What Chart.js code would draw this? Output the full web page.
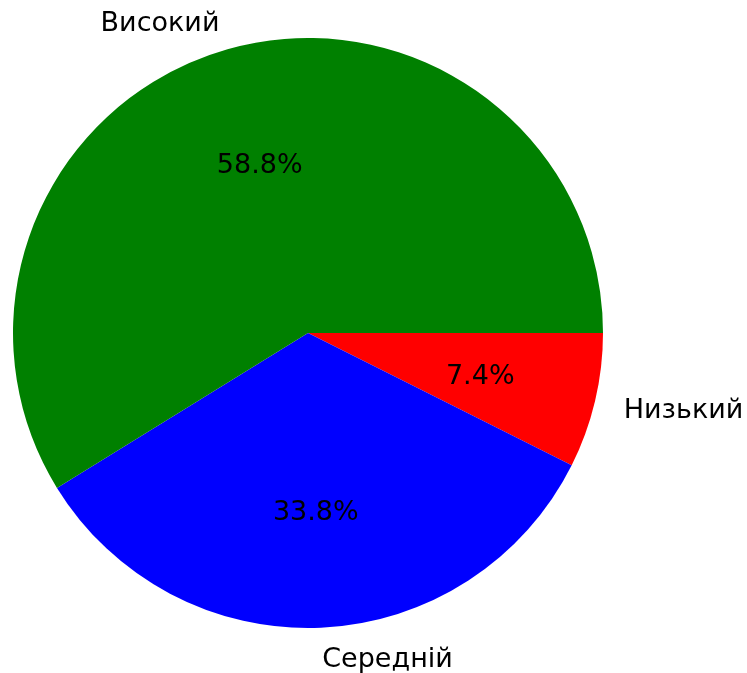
<!DOCTYPE html>
<html>
<head>
<meta charset="utf-8">
<script src="https://cdn.jsdelivr.net/npm/chart.js@4"></script>
<style>
  html, body { margin: 0; padding: 0; background: #fff; }
</style>
</head>
<body>
<canvas id="pieChart" width="747" height="673"></canvas>
<script>
// Дані діаграми (порядок як у matplotlib: проти годинникової стрілки від 3 год.)
const categories = ["Високий", "Середній", "Низький"];
const percents = [58.8, 33.8, 7.4];
const colors = ["#008000", "#0000ff", "#ff0000"];

// Chart.js малює за годинниковою стрілкою, тому розвертаємо порядок
const labelsCW = categories.slice().reverse();
const valuesCW = percents.slice().reverse();
const colorsCW = colors.slice().reverse();

const FONT = "27px 'DejaVu Sans'";
const TEXT_DY = 3; // невеликий зсув вниз, як у matplotlib

// Плагін для підписів: назви на 1.1r, відсотки на 0.6r
const pieLabels = {
  id: "pieLabels",
  afterDatasetsDraw(chart) {
    const ctx = chart.ctx;
    const meta = chart.getDatasetMeta(0);
    ctx.save();
    ctx.font = FONT;
    ctx.fillStyle = "#000";
    meta.data.forEach((arc, i) => {
      const mid = (arc.startAngle + arc.endAngle) / 2;
      const r = arc.outerRadius;
      const cx = arc.x, cy = arc.y;
      // відсоток
      ctx.textAlign = "center";
      ctx.textBaseline = "middle";
      ctx.fillText(valuesCW[i].toFixed(1) + "%", cx + Math.cos(mid) * r * 0.6, cy + Math.sin(mid) * r * 0.6 + TEXT_DY);
      // назва
      const lx = cx + Math.cos(mid) * r * 1.1;
      const ly = cy + Math.sin(mid) * r * 1.1 + TEXT_DY;
      ctx.textAlign = Math.cos(mid) >= 0 ? "left" : "right";
      ctx.fillText(labelsCW[i], lx, ly);
    });
    ctx.restore();
  },
};

new Chart(document.getElementById("pieChart"), {
  type: "pie",
  data: {
    labels: labelsCW,
    datasets: [
      {
        data: valuesCW,
        backgroundColor: colorsCW,
        borderWidth: 0,
      },
    ],
  },
  options: {
    responsive: false,
    animation: false,
    rotation: 90,
    layout: {
      padding: { left: 13, right: 144, top: 38, bottom: 45 },
    },
    plugins: {
      legend: { display: false },
      tooltip: { enabled: false },
    },
  },
  plugins: [pieLabels],
});
</script>
</body>
</html>
